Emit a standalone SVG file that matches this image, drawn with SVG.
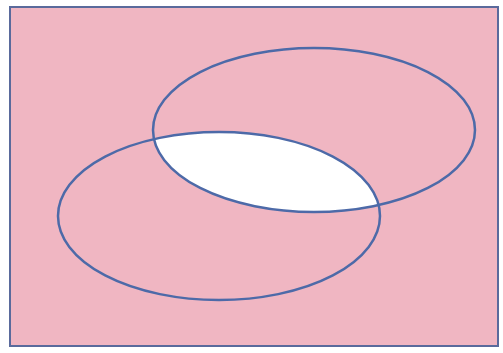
<svg xmlns="http://www.w3.org/2000/svg" width="503" height="353" viewBox="0 0 503 353">
<style>
.set{fill:none;stroke:#4d6aa8;stroke-width:2.5}
</style>
<defs>
<clipPath id="clipA"><ellipse cx="314" cy="130" rx="161" ry="82"/></clipPath>
</defs>
<rect width="503" height="353" fill="#ffffff"/>
<g id="universe">
<rect x="10" y="7" width="488" height="339" fill="#f0b6c2" stroke="#5a6a9c" stroke-width="2"/>
</g>
<g id="intersection">
<ellipse cx="219" cy="216" rx="161" ry="84" fill="#ffffff" clip-path="url(#clipA)"/>
</g>
<g id="setA">
<ellipse class="set" cx="314" cy="130" rx="161" ry="82"/>
</g>
<g id="setB">
<ellipse class="set" cx="219" cy="216" rx="161" ry="84"/>
</g>
</svg>
